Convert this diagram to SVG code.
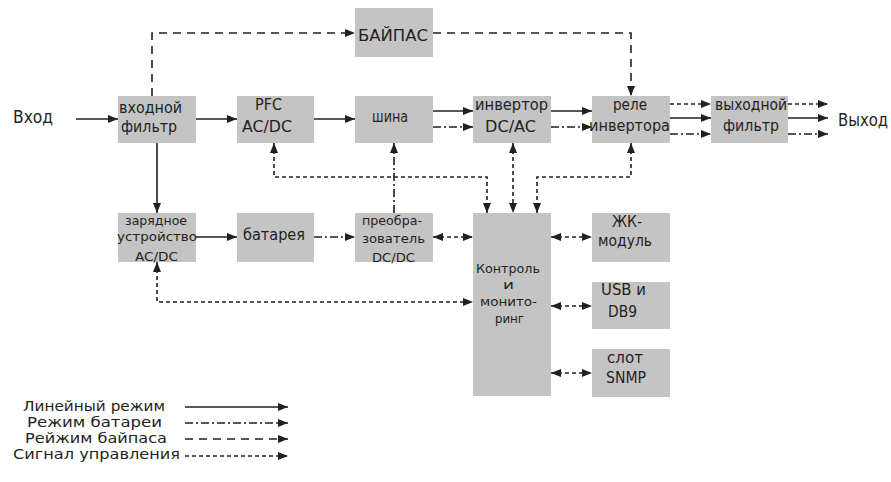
<svg xmlns="http://www.w3.org/2000/svg" width="891" height="482" viewBox="0 0 891 482">
<style>
.box{fill:#c4c4c4;}
.t{font-family:"DejaVu Sans Condensed","DejaVu Sans","Liberation Sans",sans-serif;font-size:15px;fill:#231f20;}
.ts{font-size:13px;}
.lbl{font-family:"DejaVu Sans Condensed","DejaVu Sans",sans-serif;font-size:17px;fill:#231f20;}
.lg{font-family:"DejaVu Sans Condensed","DejaVu Sans",sans-serif;font-size:14px;fill:#231f20;}
.c{fill:none;stroke:#231f20;stroke-width:1.6;}
.dd{stroke-dasharray:8 3 2 3;}
.by{stroke-dasharray:8 6;}
.sg{stroke-dasharray:4 3;}
</style>
<defs>
<marker id="ah" viewBox="0 0 10 8" refX="10" refY="4" markerWidth="10" markerHeight="8" markerUnits="userSpaceOnUse" orient="auto-start-reverse">
<path d="M0,0 L10,4 L0,8 z" fill="#231f20"/>
</marker>
</defs>
<rect width="891" height="482" fill="#fff"/>

<g id="bypass"><rect class="box" x="355" y="8" width="78" height="49"/><text class="t" x="358" y="41" textLength="70" lengthAdjust="spacingAndGlyphs">БАЙПАС</text></g>
<g id="infilter"><rect class="box" x="118" y="96" width="78" height="47"/><text class="t" x="119" y="113" textLength="63" lengthAdjust="spacingAndGlyphs">входной</text><text class="t" x="121" y="132" textLength="56" lengthAdjust="spacingAndGlyphs">фильтр</text></g>
<g id="pfc"><rect class="box" x="237" y="96" width="77" height="47"/><text class="t" x="255" y="110" textLength="27" lengthAdjust="spacingAndGlyphs">PFC</text><text class="t" x="242" y="132" textLength="50" lengthAdjust="spacingAndGlyphs">AC/DC</text></g>
<g id="bus"><rect class="box" x="355" y="96" width="78" height="47"/><text class="t" x="372" y="122" textLength="36" lengthAdjust="spacingAndGlyphs">шина</text></g>
<g id="inverter"><rect class="box" x="473" y="96" width="78" height="47"/><text class="t" x="475" y="110" textLength="73" lengthAdjust="spacingAndGlyphs">инвертор</text><text class="t" x="485" y="132" textLength="51" lengthAdjust="spacingAndGlyphs">DC/AC</text></g>
<g id="relay"><rect class="box" x="592" y="96" width="78" height="47"/><text class="t" x="613" y="110" textLength="34" lengthAdjust="spacingAndGlyphs">реле</text><text class="t" x="589" y="131" textLength="81" lengthAdjust="spacingAndGlyphs">инвертора</text></g>
<g id="outfilter"><rect class="box" x="711" y="96" width="77" height="47"/><text class="t" x="715" y="110" textLength="72" lengthAdjust="spacingAndGlyphs">выходной</text><text class="t" x="723" y="131" textLength="56" lengthAdjust="spacingAndGlyphs">фильтр</text></g>

<g id="charger"><rect class="box" x="118" y="213" width="78" height="49"/><text class="t ts" x="125" y="225" textLength="62" lengthAdjust="spacingAndGlyphs">зарядное</text><text class="t ts" x="117" y="241" textLength="80" lengthAdjust="spacingAndGlyphs">устройство</text><text class="t ts" x="135" y="261" textLength="43" lengthAdjust="spacingAndGlyphs">AC/DC</text></g>
<g id="battery"><rect class="box" x="237" y="213" width="77" height="49"/><text class="t" x="243" y="240" textLength="62" lengthAdjust="spacingAndGlyphs">батарея</text></g>
<g id="dcdc"><rect class="box" x="355" y="213" width="78" height="49"/><text class="t ts" x="362" y="225" textLength="60" lengthAdjust="spacingAndGlyphs">преобра-</text><text class="t ts" x="362" y="243" textLength="63" lengthAdjust="spacingAndGlyphs">зователь</text><text class="t ts" x="372" y="262" textLength="43" lengthAdjust="spacingAndGlyphs">DC/DC</text></g>
<g id="control"><rect class="box" x="473" y="213" width="78" height="183"/><text class="t ts" x="476" y="273" textLength="64" lengthAdjust="spacingAndGlyphs">Контроль</text><text class="t ts" x="503" y="289" textLength="11" lengthAdjust="spacingAndGlyphs">и</text><text class="t ts" x="480" y="306" textLength="57" lengthAdjust="spacingAndGlyphs">монито-</text><text class="t ts" x="495" y="323" textLength="29" lengthAdjust="spacingAndGlyphs">ринг</text></g>
<g id="lcd"><rect class="box" x="592" y="213" width="78" height="49"/><text class="t" x="612" y="227" textLength="30" lengthAdjust="spacingAndGlyphs">ЖК-</text><text class="t" x="598" y="246" textLength="54" lengthAdjust="spacingAndGlyphs">модуль</text></g>
<g id="usb"><rect class="box" x="592" y="282" width="78" height="47"/><text class="t" x="601" y="295" textLength="45" lengthAdjust="spacingAndGlyphs">USB и</text><text class="t" x="608" y="317" textLength="29" lengthAdjust="spacingAndGlyphs">DB9</text></g>
<g id="snmp"><rect class="box" x="592" y="349" width="78" height="48"/><text class="t" x="607" y="363" textLength="36" lengthAdjust="spacingAndGlyphs">слот</text><text class="t" x="606" y="383" textLength="40" lengthAdjust="spacingAndGlyphs">SNMP</text></g>

<text class="lbl" x="13" y="123" textLength="40" lengthAdjust="spacingAndGlyphs">Вход</text>
<text class="lbl" x="838" y="126" textLength="50" lengthAdjust="spacingAndGlyphs">Выход</text>

<g id="connectors">
<line class="c" x1="76" y1="119" x2="118" y2="119" marker-end="url(#ah)"/>
<line class="c" x1="196" y1="119" x2="237" y2="119" marker-end="url(#ah)"/>
<line class="c" x1="314" y1="119" x2="355" y2="119" marker-end="url(#ah)"/>
<line class="c" x1="433" y1="111" x2="473" y2="111" marker-end="url(#ah)"/>
<line class="c dd" x1="433" y1="127" x2="473" y2="127" marker-end="url(#ah)"/>
<line class="c" x1="551" y1="111" x2="592" y2="111" marker-end="url(#ah)"/>
<line class="c dd" x1="551" y1="127" x2="592" y2="127" marker-end="url(#ah)"/>
<line class="c sg" x1="670" y1="104" x2="711" y2="104" marker-end="url(#ah)"/>
<line class="c" x1="670" y1="118" x2="711" y2="118" marker-end="url(#ah)"/>
<line class="c dd" x1="670" y1="134" x2="711" y2="134" marker-end="url(#ah)"/>
<line class="c sg" x1="788" y1="104" x2="828" y2="104" marker-end="url(#ah)"/>
<line class="c" x1="788" y1="118" x2="828" y2="118" marker-end="url(#ah)"/>
<line class="c dd" x1="788" y1="134" x2="828" y2="134" marker-end="url(#ah)"/>
<polyline class="c by" points="152,96 152,33 355,33" marker-end="url(#ah)"/>
<polyline class="c by" points="433,33 631,33 631,96" marker-end="url(#ah)"/>
<line class="c" x1="157" y1="143" x2="157" y2="213" marker-end="url(#ah)"/>
<line class="c" x1="196" y1="237" x2="237" y2="237" marker-end="url(#ah)"/>
<line class="c dd" x1="314" y1="237" x2="355" y2="237" marker-end="url(#ah)"/>
<line class="c sg" x1="433" y1="237" x2="473" y2="237" marker-start="url(#ah)" marker-end="url(#ah)"/>
<line class="c dd" x1="394" y1="213" x2="394" y2="143" marker-end="url(#ah)"/>
<polyline class="c sg" points="274,143 274,177 487,177 487,213" marker-start="url(#ah)" marker-end="url(#ah)"/>
<line class="c sg" x1="513" y1="143" x2="513" y2="213" marker-start="url(#ah)" marker-end="url(#ah)"/>
<polyline class="c sg" points="631,143 631,177 537,177 537,213" marker-start="url(#ah)" marker-end="url(#ah)"/>
<polyline class="c sg" points="157,262 157,302 473,302" marker-start="url(#ah)" marker-end="url(#ah)"/>
<line class="c sg" x1="551" y1="237" x2="592" y2="237" marker-start="url(#ah)" marker-end="url(#ah)"/>
<line class="c sg" x1="551" y1="306" x2="592" y2="306" marker-start="url(#ah)" marker-end="url(#ah)"/>
<line class="c sg" x1="551" y1="373" x2="592" y2="373" marker-start="url(#ah)" marker-end="url(#ah)"/>
</g>

<g id="legend">
<text class="lg" x="23" y="411" textLength="142" lengthAdjust="spacingAndGlyphs">Линейный режим</text>
<text class="lg" x="27" y="427" textLength="135" lengthAdjust="spacingAndGlyphs">Режим батареи</text>
<text class="lg" x="25" y="443" textLength="142" lengthAdjust="spacingAndGlyphs">Рейжим байпаса</text>
<text class="lg" x="13" y="459" textLength="167" lengthAdjust="spacingAndGlyphs">Сигнал управления</text>
<line class="c" x1="185" y1="407" x2="288" y2="407" marker-end="url(#ah)"/>
<line class="c dd" x1="185" y1="423" x2="288" y2="423" marker-end="url(#ah)"/>
<line class="c by" x1="185" y1="439" x2="288" y2="439" marker-end="url(#ah)"/>
<line class="c sg" x1="185" y1="456" x2="288" y2="456" marker-end="url(#ah)"/>
</g>
</svg>
